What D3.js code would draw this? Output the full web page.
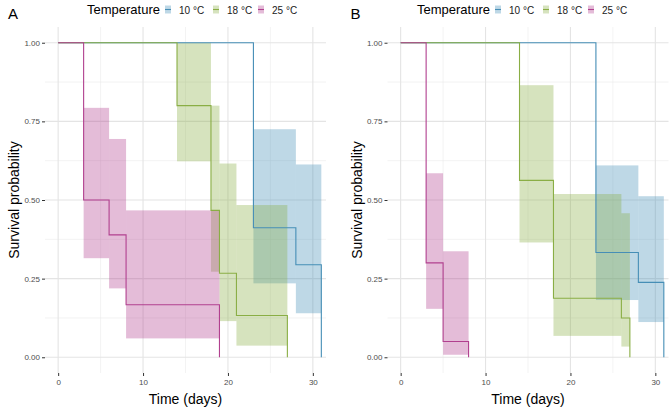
<!DOCTYPE html>
<html>
<head>
<meta charset="utf-8">
<script src="https://cdn.jsdelivr.net/npm/d3@7"></script>
<style>
  body { margin: 0; background: #fff; }
  svg { font-family: "Liberation Sans", Arial, sans-serif; }
</style>
</head>
<body>
<svg id="chart" width="669" height="407"></svg>
<script>
// groups and tick labels
var groups = ["10 °C", "18 °C", "25 °C"];
var xTicks = [0, 10, 20, 30];
var xMinor = [5, 15, 25];
var yTicks = [0, 0.25, 0.5, 0.75, 1];
var yMinor = [0.125, 0.375, 0.625, 0.875];

// panel A  (time, survival, upper / lower CI for each interval)
var a10Time  = [0, 23, 28, 31];
var a10Surv  = [1, 0.412, 0.294, 0];
var a10Upper = [1, 0.725, 0.613];
var a10Lower = [1, 0.235, 0.140];

var a18Time  = [0, 14, 18, 19, 21, 27];
var a18Surv  = [1, 0.800, 0.467, 0.267, 0.133, 0];
var a18Upper = [1, 1.000, 0.800, 0.616, 0.484];
var a18Lower = [1, 0.623, 0.272, 0.115, 0.037];

var a25Time  = [0, 3, 6, 8, 19];
var a25Surv  = [1, 0.500, 0.389, 0.167, 0];
var a25Upper = [1, 0.793, 0.694, 0.467];
var a25Lower = [1, 0.315, 0.219, 0.060];

// panel B
var b10Time  = [0, 23, 28, 31];
var b10Surv  = [1, 0.333, 0.238, 0];
var b10Upper = [1, 0.610, 0.512];
var b10Lower = [1, 0.182, 0.112];

var b18Time  = [0, 14, 18, 26, 27];
var b18Surv  = [1, 0.5625, 0.1875, 0.125, 0];
var b18Upper = [1, 0.865, 0.519, 0.458];
var b18Lower = [1, 0.365, 0.068, 0.034];

var b25Time  = [0, 3, 5, 8];
var b25Surv  = [1, 0.300, 0.050, 0];
var b25Upper = [1, 0.585, 0.337];
var b25Lower = [1, 0.154, 0.008];

var colors = ["#468EB6", "#8AAE45", "#B1408F"];

function series(time, surv, upper, lower) {
  return { time: time, surv: surv, upper: upper, lower: lower };
}

var panels = [
  { label: "A", x0: 45, x1: 326, legendX: 87,
    data: [series(a10Time, a10Surv, a10Upper, a10Lower),
           series(a18Time, a18Surv, a18Upper, a18Lower),
           series(a25Time, a25Surv, a25Upper, a25Lower)] },
  { label: "B", x0: 387.5, x1: 668.5, legendX: 417,
    data: [series(b10Time, b10Surv, b10Upper, b10Lower),
           series(b18Time, b18Surv, b18Upper, b18Lower),
           series(b25Time, b25Surv, b25Upper, b25Lower)] }
];

var plotTop = 27, plotBottom = 373;
var svg = d3.select("#chart");

var y = d3.scaleLinear().domain([-0.05, 1.05]).range([plotBottom, plotTop]);

panels.forEach(function(p) {
  var x = d3.scaleLinear().domain([-1.55, 31.55]).range([p.x0, p.x1]);
  var g = svg.append("g");

  // grid
  g.selectAll(".gxm").data(xMinor).enter().append("line")
    .attr("x1", x).attr("x2", x).attr("y1", plotTop).attr("y2", plotBottom)
    .attr("stroke", "#EBEBEB").attr("stroke-width", 0.6);
  g.selectAll(".gym").data(yMinor).enter().append("line")
    .attr("x1", p.x0).attr("x2", p.x1).attr("y1", y).attr("y2", y)
    .attr("stroke", "#EBEBEB").attr("stroke-width", 0.6);
  g.selectAll(".gx").data(xTicks).enter().append("line")
    .attr("x1", x).attr("x2", x).attr("y1", plotTop).attr("y2", plotBottom)
    .attr("stroke", "#E4E4E4").attr("stroke-width", 1.1);
  g.selectAll(".gy").data(yTicks).enter().append("line")
    .attr("x1", p.x0).attr("x2", p.x1).attr("y1", y).attr("y2", y)
    .attr("stroke", "#E4E4E4").attr("stroke-width", 1.1);

  // confidence bands
  p.data.forEach(function(s, k) {
    var idx = d3.range(s.upper.length);
    g.selectAll(".band" + k).data(idx).enter().append("rect")
      .attr("x", function(i) { return x(s.time[i]); })
      .attr("width", function(i) { return x(s.time[i + 1]) - x(s.time[i]); })
      .attr("y", function(i) { return y(s.upper[i]); })
      .attr("height", function(i) { return y(s.lower[i]) - y(s.upper[i]); })
      .attr("fill", colors[k]).attr("fill-opacity", 0.35);
  });

  // survival curves
  var line = d3.line()
    .x(function(d) { return x(d[0]); })
    .y(function(d) { return y(d[1]); })
    .curve(d3.curveStepAfter);
  p.data.forEach(function(s, k) {
    g.append("path")
      .attr("d", line(d3.zip(s.time, s.surv)))
      .attr("fill", "none").attr("stroke", colors[k]).attr("stroke-width", 1.1);
  });

  // axes
  var xAxis = d3.axisBottom(x).tickValues(xTicks).tickSize(3).tickPadding(3);
  var gx = g.append("g").attr("transform", "translate(0," + plotBottom + ")").call(xAxis);
  var yAxis = d3.axisLeft(y).tickValues(yTicks).tickSize(3).tickPadding(2)
    .tickFormat(d3.format(".2f"));
  var gy = g.append("g").attr("transform", "translate(" + p.x0 + ",0)").call(yAxis);
  [gx, gy].forEach(function(a) {
    a.select(".domain").remove();
    a.selectAll(".tick line").attr("stroke", "#333");
    a.selectAll(".tick text").attr("fill", "#4D4D4D")
      .style("font-size", "8px").style("font-family", "Liberation Sans, Arial, sans-serif");
  });

  // titles
  g.append("text").attr("x", (p.x0 + p.x1) / 2).attr("y", 404)
    .attr("text-anchor", "middle").style("font-size", "14px").text("Time (days)");
  g.append("text")
    .attr("transform", "translate(" + (p.x0 - 26) + "," + ((plotTop + plotBottom) / 2) + ") rotate(-90)")
    .attr("text-anchor", "middle").style("font-size", "14px").text("Survival probability");
  g.append("text").attr("x", p.x0 - 37).attr("y", 19)
    .style("font-size", "15px").text(p.label);

  // legend
  var lg = g.append("g").attr("transform", "translate(" + p.legendX + ",0)");
  lg.append("text").attr("x", 0).attr("y", 14).style("font-size", "13px").text("Temperature");
  var keyX = [78, 126, 171];
  groups.forEach(function(name, k) {
    lg.append("rect").attr("x", keyX[k]).attr("y", 5.5).attr("width", 6).attr("height", 8)
      .attr("fill", colors[k]).attr("fill-opacity", 0.35);
    lg.append("line").attr("x1", keyX[k]).attr("x2", keyX[k] + 6).attr("y1", 9.5).attr("y2", 9.5)
      .attr("stroke", colors[k]).attr("stroke-width", 1.1);
    lg.append("text").attr("x", keyX[k] + 14).attr("y", 13.5)
      .style("font-size", "10px").attr("fill", "#1A1A1A").text(name);
  });
});
</script>
</body>
</html>
